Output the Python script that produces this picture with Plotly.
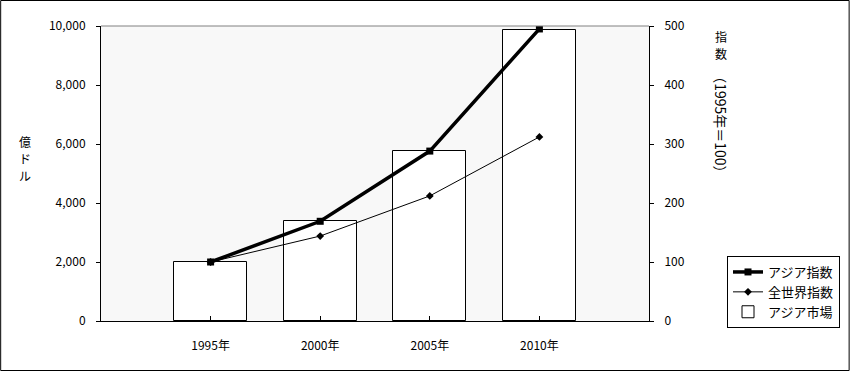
import plotly.graph_objects as go

years = ["1995年", "2000年", "2005年", "2010年"]
asia_market = [2000, 3390, 5760, 9860]
asia_index = [100, 169, 288, 495]
world_index = [100, 144, 212, 312]

left_ticks = [0, 2000, 4000, 6000, 8000, 10000]
left_labels = ["0", "2,000", "4,000", "6,000", "8,000", "10,000"]
right_ticks = [0, 100, 200, 300, 400, 500]

FONT = "Noto Sans CJK JP"
x_idx = list(range(len(years)))

fig = go.Figure()
fig.add_trace(go.Bar(
    x=x_idx, y=asia_market, name="アジア市場", width=0.665,
    marker=dict(color="white", line=dict(color="black", width=1)),
    yaxis="y", legendrank=3,
))
fig.add_trace(go.Scatter(
    x=x_idx, y=asia_index, name="アジア指数", mode="lines+markers",
    line=dict(color="black", width=3.5),
    marker=dict(symbol="square", size=7, color="black"),
    yaxis="y2", legendrank=1,
))
fig.add_trace(go.Scatter(
    x=x_idx, y=world_index, name="全世界指数", mode="lines+markers",
    line=dict(color="black", width=1),
    marker=dict(symbol="diamond", size=6, color="black"),
    yaxis="y2", legendrank=2,
))

PW, PH = 549, 295
fig.update_layout(
    width=851, height=371,
    margin=dict(l=101, r=201, t=26, b=50),
    paper_bgcolor="white", plot_bgcolor="#f8f8f8",
    font=dict(family=FONT, size=12, color="black"),
    showlegend=True,
    legend=dict(
        x=(727 - 101) / PW, y=(321 - 328) / PH, xanchor="left", yanchor="bottom",
        bordercolor="black", borderwidth=1, bgcolor="white",
        font=dict(family=FONT, size=13), tracegroupgap=0,
    ),
    xaxis=dict(
        range=[-1, 4], tickvals=x_idx, ticktext=years,
        showgrid=False, zeroline=False,
        showline=True, linecolor="black", linewidth=1,
        ticks="inside", ticklen=5, tickcolor="black",
        tickfont=dict(size=12), fixedrange=True, ticklabelstandoff=14,
    ),
    yaxis=dict(
        range=[0, 10000], tickvals=left_ticks, ticktext=left_labels,
        showgrid=False, zeroline=False,
        showline=True, linecolor="black", linewidth=1,
        ticks="outside", ticklen=4, tickcolor="black",
        tickfont=dict(size=12), ticklabelstandoff=8,
    ),
    yaxis2=dict(
        range=[0, 500], tickvals=right_ticks, overlaying="y", side="right",
        showgrid=False, zeroline=False,
        showline=True, linecolor="black", linewidth=1,
        ticks="outside", ticklen=4, tickcolor="black",
        tickfont=dict(size=12), ticklabelstandoff=8,
    ),
    bargap=0,
)

# top border of plot area
fig.add_shape(type="line", xref="paper", yref="paper", x0=0, x1=1, y0=1, y1=1,
              line=dict(color="#808080", width=1))
# outer frame
fig.add_shape(type="rect", xref="paper", yref="paper",
              x0=-100.5 / PW, x1=(850.5 - 101) / PW, y0=-49.5 / PH, y1=(PH + 25.5) / PH,
              line=dict(color="black", width=1))

for ch, yy in [("億", 141), ("ド", 158), ("ル", 175)]:
    fig.add_annotation(text=ch, xref="paper", yref="paper",
                       x=(25 - 101) / PW, y=(321 - yy) / PH, xanchor="center", yanchor="middle",
                       showarrow=False, font=dict(family=FONT, size=12))
for ch, yy in [("指", 37), ("数", 54)]:
    fig.add_annotation(text=ch, xref="paper", yref="paper",
                       x=(722 - 101) / PW, y=(321 - yy) / PH, xanchor="center", yanchor="middle",
                       showarrow=False, font=dict(family=FONT, size=12))
fig.add_annotation(text="（1995年＝100）", xref="paper", yref="paper",
                   x=(722 - 101) / PW, y=(321 - 124) / PH, xanchor="center", yanchor="middle",
                   textangle=90, showarrow=False, font=dict(family=FONT, size=14))

fig.write_html("out.html", post_script="document.body.style.margin='0';",
               config={"displayModeBar": False})
